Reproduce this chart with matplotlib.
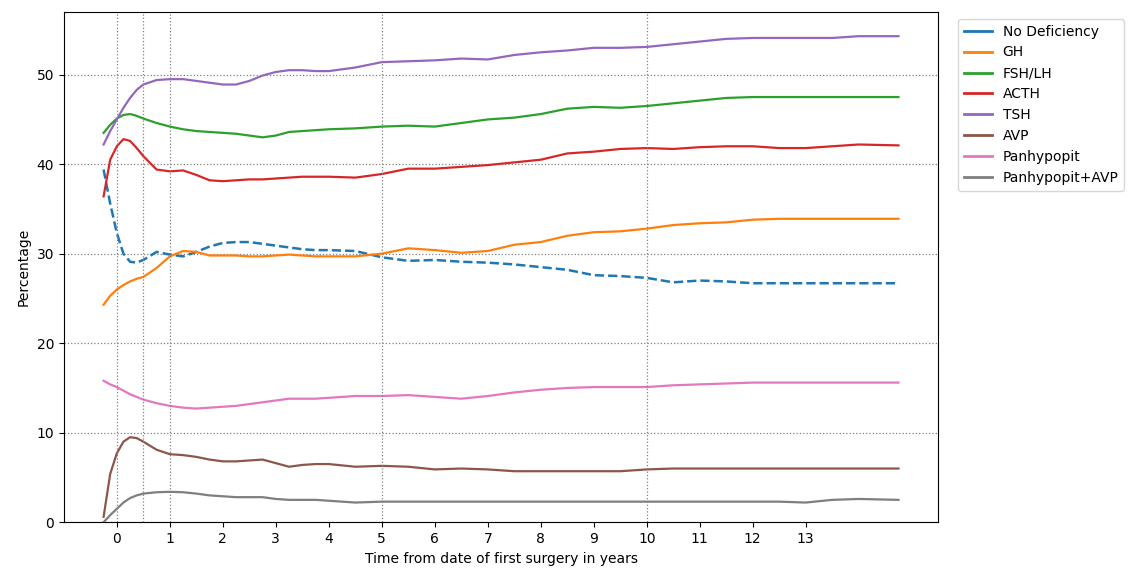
import matplotlib
matplotlib.use("Agg")
import matplotlib.pyplot as plt
from matplotlib.lines import Line2D

years = [-0.25, -0.125, 0, 0.125, 0.25, 0.375, 0.5, 0.75, 1, 1.25, 1.5, 1.75, 2,
         2.25, 2.5, 2.75, 3, 3.25, 3.5, 3.75, 4, 4.5, 5, 5.5, 6, 6.5, 7, 7.5, 8,
         8.5, 9, 9.5, 10, 10.5, 11, 11.5, 12, 12.5, 13, 13.5, 14, 14.75]

no_deficiency = [39.4, 35.6, 32.3, 30.0, 29.1, 29.0, 29.3, 30.2, 29.9, 29.7, 30.2, 30.8, 31.2,
                 31.3, 31.3, 31.1, 30.9, 30.7, 30.5, 30.4, 30.4, 30.3, 29.6, 29.2, 29.3, 29.1, 29.0, 28.8, 28.5,
                 28.2, 27.6, 27.5, 27.3, 26.8, 27.0, 26.9, 26.7, 26.7, 26.7, 26.7, 26.7, 26.7]
gh = [24.3, 25.3, 26.0, 26.5, 26.9, 27.2, 27.4, 28.4, 29.7, 30.3, 30.2, 29.8, 29.8,
      29.8, 29.7, 29.7, 29.8, 29.9, 29.8, 29.7, 29.7, 29.7, 30.0, 30.6, 30.4, 30.1, 30.3, 31.0, 31.3,
      32.0, 32.4, 32.5, 32.8, 33.2, 33.4, 33.5, 33.8, 33.9, 33.9, 33.9, 33.9, 33.9]
fsh_lh = [43.5, 44.4, 45.1, 45.5, 45.6, 45.4, 45.1, 44.6, 44.2, 43.9, 43.7, 43.6, 43.5,
          43.4, 43.2, 43.0, 43.2, 43.6, 43.7, 43.8, 43.9, 44.0, 44.2, 44.3, 44.2, 44.6, 45.0, 45.2, 45.6,
          46.2, 46.4, 46.3, 46.5, 46.8, 47.1, 47.4, 47.5, 47.5, 47.5, 47.5, 47.5, 47.5]
acth = [36.4, 40.5, 42.0, 42.8, 42.6, 41.8, 40.9, 39.4, 39.2, 39.3, 38.8, 38.2, 38.1,
        38.2, 38.3, 38.3, 38.4, 38.5, 38.6, 38.6, 38.6, 38.5, 38.9, 39.5, 39.5, 39.7, 39.9, 40.2, 40.5,
        41.2, 41.4, 41.7, 41.8, 41.7, 41.9, 42.0, 42.0, 41.8, 41.8, 42.0, 42.2, 42.1]
tsh = [42.2, 43.7, 45.0, 46.3, 47.4, 48.3, 48.9, 49.4, 49.5, 49.5, 49.3, 49.1, 48.9,
       48.9, 49.3, 49.9, 50.3, 50.5, 50.5, 50.4, 50.4, 50.8, 51.4, 51.5, 51.6, 51.8, 51.7, 52.2, 52.5,
       52.7, 53.0, 53.0, 53.1, 53.4, 53.7, 54.0, 54.1, 54.1, 54.1, 54.1, 54.3, 54.3]
avp = [0.6, 5.4, 7.7, 9.0, 9.5, 9.4, 9.0, 8.1, 7.6, 7.5, 7.3, 7.0, 6.8,
       6.8, 6.9, 7.0, 6.6, 6.2, 6.4, 6.5, 6.5, 6.2, 6.3, 6.2, 5.9, 6.0, 5.9, 5.7, 5.7,
       5.7, 5.7, 5.7, 5.9, 6.0, 6.0, 6.0, 6.0, 6.0, 6.0, 6.0, 6.0, 6.0]
panhypopit = [15.8, 15.4, 15.1, 14.7, 14.3, 14.0, 13.7, 13.3, 13.0, 12.8, 12.7, 12.8, 12.9,
              13.0, 13.2, 13.4, 13.6, 13.8, 13.8, 13.8, 13.9, 14.1, 14.1, 14.2, 14.0, 13.8, 14.1, 14.5, 14.8,
              15.0, 15.1, 15.1, 15.1, 15.3, 15.4, 15.5, 15.6, 15.6, 15.6, 15.6, 15.6, 15.6]
panhypopit_avp = [0.0, 0.8, 1.5, 2.2, 2.7, 3.0, 3.2, 3.35, 3.4, 3.35, 3.2, 3.0, 2.9,
                  2.8, 2.8, 2.8, 2.6, 2.5, 2.5, 2.5, 2.4, 2.2, 2.3, 2.3, 2.3, 2.3, 2.3, 2.3, 2.3,
                  2.3, 2.3, 2.3, 2.3, 2.3, 2.3, 2.3, 2.3, 2.3, 2.2, 2.5, 2.6, 2.5]

labels = ["No Deficiency", "GH", "FSH/LH", "ACTH", "TSH", "AVP", "Panhypopit", "Panhypopit+AVP"]
series = [no_deficiency, gh, fsh_lh, acth, tsh, avp, panhypopit, panhypopit_avp]
colors = ["#1f77b4", "#ff7f0e", "#2ca02c", "#d62728", "#9467bd", "#8c564b", "#e377c2", "#7f7f7f"]
vlines = [0, 0.5, 1, 5, 10]
xticks = list(range(0, 14))

fig = plt.figure(figsize=(11.4, 5.72), dpi=100)
ax = fig.add_axes([0.056, 0.087, 0.767, 0.892])

for i, (lab, vals, c) in enumerate(zip(labels, series, colors)):
    ls = "--" if i == 0 else "-"
    ax.plot(years, vals, color=c, lw=1.6 if i else 1.8, ls=ls, label=lab)

for v in vlines:
    ax.axvline(v, color="gray", ls=":", lw=0.9)
ax.yaxis.grid(True, color="gray", ls=":", lw=0.9)

ax.set_xticks(xticks)
ax.set_ylim(0, 57)
ax.set_xlabel("Time from date of first surgery in years")
ax.set_ylabel("Percentage")

handles = [Line2D([0], [0], color=c, lw=2) for c in colors]
ax.legend(handles, labels, loc="upper left", bbox_to_anchor=(1.015, 1.0),
          handlelength=2.0, fontsize=10)

fig.savefig("out.png", dpi=100)
